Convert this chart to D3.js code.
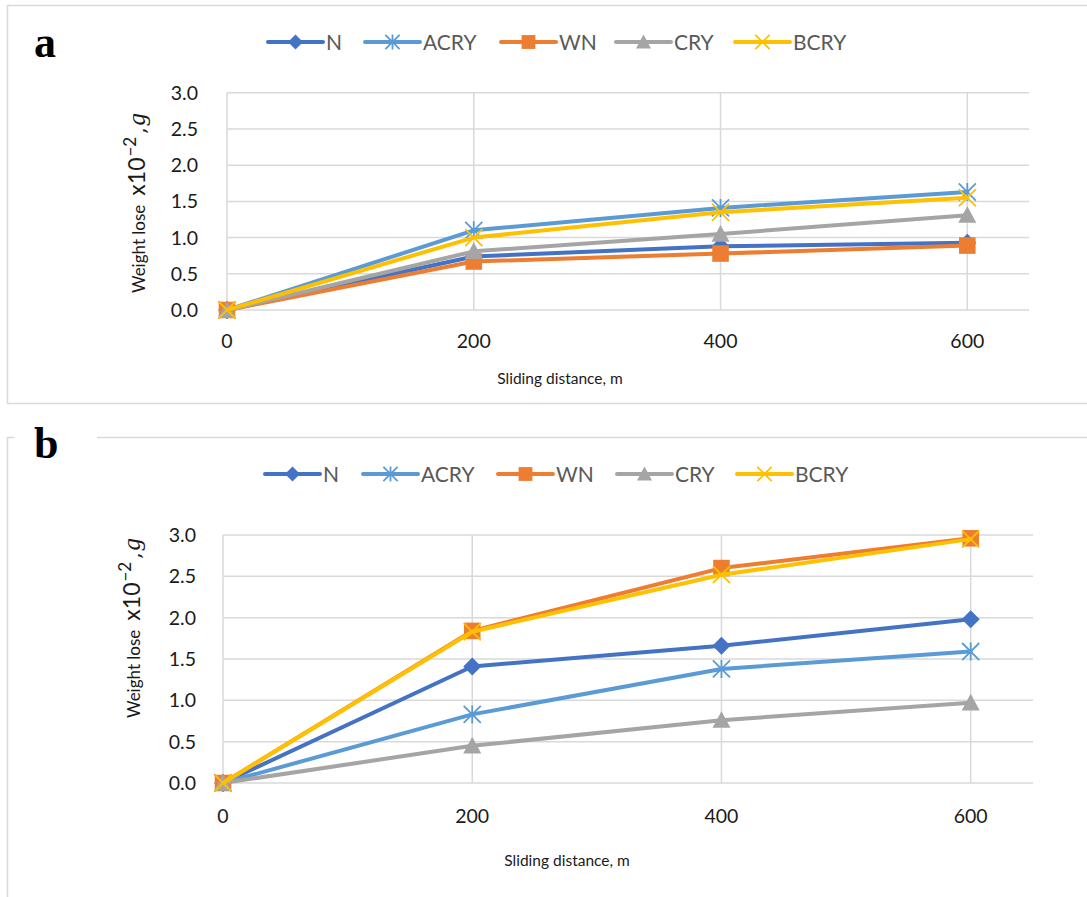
<!DOCTYPE html>
<html>
<head>
<meta charset="utf-8">
<script src="https://cdn.jsdelivr.net/npm/d3@7"></script>
<style>
  html, body { margin: 0; padding: 0; background: #fff; }
  svg { display: block; }
</style>
</head>
<body>
<svg id="chart" width="1087" height="897"></svg>
<script>
// ---------- data ----------
const distance = [0, 200, 400, 600];
const xTicks = [0, 200, 400, 600];
const yTicks = [0, 0.5, 1.0, 1.5, 2.0, 2.5, 3.0];
const seriesNames = ["N", "ACRY", "WN", "CRY", "BCRY"];

// panel a
const aN    = [0, 0.74, 0.88, 0.93];
const aACRY = [0, 1.10, 1.41, 1.63];
const aWN   = [0, 0.67, 0.78, 0.89];
const aCRY  = [0, 0.81, 1.05, 1.31];
const aBCRY = [0, 1.00, 1.35, 1.55];

// panel b
const bN    = [0, 1.41, 1.66, 1.98];
const bACRY = [0, 0.83, 1.38, 1.59];
const bWN   = [0, 1.84, 2.60, 2.96];
const bCRY  = [0, 0.45, 0.76, 0.97];
const bBCRY = [0, 1.83, 2.52, 2.95];

const xLabel = "Sliding distance, m";
const panelLabels = ["a", "b"];

// ---------- styles ----------
const colors = { N: "#4472C4", ACRY: "#5B9BD5", WN: "#ED7D31", CRY: "#A5A5A5", BCRY: "#FFC000" };
const grid = "#d9d9d9";
const tickFont = "Lato, 'Open Sans', sans-serif";

const svg = d3.select("#chart");

function drawMarker(g, name, cx, cy, s) {
  const c = colors[name];
  const h = s / 2;
  if (name === "N") {
    g.append("path").attr("d", `M${cx},${cy - h}L${cx + h},${cy}L${cx},${cy + h}L${cx - h},${cy}Z`).attr("fill", c);
  } else if (name === "WN") {
    g.append("rect").attr("x", cx - h * 0.92).attr("y", cy - h * 0.92).attr("width", s * 0.92).attr("height", s * 0.92).attr("fill", c);
  } else if (name === "CRY") {
    g.append("path").attr("d", `M${cx},${cy - h}L${cx + h},${cy + h * 0.85}L${cx - h},${cy + h * 0.85}Z`).attr("fill", c);
  } else if (name === "ACRY") {
    const d = h * 0.95;
    g.append("path").attr("d", `M${cx - d},${cy - d}L${cx + d},${cy + d}M${cx + d},${cy - d}L${cx - d},${cy + d}M${cx},${cy - h}L${cx},${cy + h}`)
      .attr("stroke", c).attr("stroke-width", 1.8).attr("fill", "none");
  } else if (name === "BCRY") {
    const d = h * 0.95;
    g.append("path").attr("d", `M${cx - d},${cy - d}L${cx + d},${cy + d}M${cx + d},${cy - d}L${cx - d},${cy + d}`)
      .attr("stroke", c).attr("stroke-width", 1.8).attr("fill", "none");
  }
}

function drawPanel(cfg) {
  const g = svg.append("g");
  const x = d3.scaleLinear().domain([0, 650]).range([cfg.left, cfg.right]);
  const y = d3.scaleLinear().domain([0, 3]).range([cfg.bottom, cfg.top]);

  g.append("g").selectAll("line").data(yTicks).join("line")
    .attr("x1", cfg.left).attr("x2", cfg.right)
    .attr("y1", d => y(d)).attr("y2", d => y(d))
    .attr("stroke", grid).attr("stroke-width", 1.5);
  g.append("g").selectAll("line").data(xTicks).join("line")
    .attr("x1", d => x(d)).attr("x2", d => x(d))
    .attr("y1", cfg.top).attr("y2", cfg.bottom)
    .attr("stroke", grid).attr("stroke-width", 1.5);

  g.append("g").selectAll("text").data(yTicks).join("text")
    .attr("x", cfg.yTickX).attr("y", d => y(d) + 7)
    .attr("text-anchor", "end")
    .attr("font-family", tickFont).attr("font-size", 19.5).attr("fill", "#1a1a1a")
    .text(d => d3.format(".1f")(d));

  g.append("g").selectAll("text").data(xTicks).join("text")
    .attr("x", d => x(d)).attr("y", cfg.xTickY)
    .attr("text-anchor", "middle")
    .attr("font-family", tickFont).attr("font-size", 19.5).attr("fill", "#1a1a1a")
    .text(d => d);

  g.append("text").attr("x", cfg.xTitleX).attr("y", cfg.xTitleY)
    .attr("text-anchor", "middle").attr("font-family", tickFont).attr("font-size", 15.5).attr("fill", "#1a1a1a")
    .text(xLabel);

  const yt = g.append("text")
    .attr("transform", `translate(${cfg.yTitleX},${cfg.yTitleY}) rotate(-90)`)
    .attr("fill", "#1a1a1a");
  yt.append("tspan").attr("font-family", tickFont).attr("font-size", 17).text("Weight lose");
  yt.append("tspan").attr("dx", 9).attr("font-family", tickFont).attr("font-size", 23).text("x10");
  yt.append("tspan").attr("dy", -9).attr("dx", 1).attr("font-family", tickFont).attr("font-size", 17).text("−2");
  yt.append("tspan").attr("dy", 9).attr("dx", 3).attr("font-family", "'DejaVu Serif', serif").attr("font-size", 20).text(",");
  yt.append("tspan").attr("dx", 2).attr("font-family", "'Liberation Serif', serif").attr("font-style", "italic").attr("font-size", 25).text("g");

  const line = d3.line().x(d => x(d[0])).y(d => y(d[1]));
  cfg.series.forEach((vals, i) => {
    const name = seriesNames[i];
    const pts = distance.map((dv, j) => [dv, vals[j]]);
    g.append("path").attr("d", line(pts)).attr("fill", "none")
      .attr("stroke", colors[name]).attr("stroke-width", 4)
      .attr("stroke-linejoin", "round").attr("stroke-linecap", "round");
    const mg = g.append("g");
    pts.forEach(p => drawMarker(mg, name, x(p[0]), y(p[1]), 18));
  });

  seriesNames.forEach((name, i) => {
    const lx = cfg.legendX[i];
    const ly = cfg.legendY;
    g.append("line").attr("x1", lx).attr("x2", lx + 55).attr("y1", ly).attr("y2", ly)
      .attr("stroke", colors[name]).attr("stroke-width", 4).attr("stroke-linecap", "round");
    drawMarker(g, name, lx + 27.5, ly, 15);
    g.append("text").attr("x", lx + 58).attr("y", ly + 8)
      .attr("font-family", tickFont).attr("font-size", 21).attr("fill", "#595959")
      .text(name);
  });

  g.append("text").attr("x", cfg.labelX).attr("y", cfg.labelY)
    .attr("font-family", "'Liberation Serif', 'Times New Roman', serif")
    .attr("font-weight", "bold").attr("font-size", 44).attr("fill", "#000")
    .text(cfg.label);
}

svg.append("rect").attr("x", 7.5).attr("y", 5.5).attr("width", 1100).attr("height", 398)
  .attr("fill", "none").attr("stroke", grid).attr("stroke-width", 1.5);
svg.append("path").attr("d", "M7.5,897V437.5H14M97,437.5H1100")
  .attr("fill", "none").attr("stroke", grid).attr("stroke-width", 1.5);

drawPanel({
  left: 227, right: 1029, top: 92.8, bottom: 310,
  yTickX: 198, xTickY: 348, xTitleX: 560, xTitleY: 384,
  yTitleX: 145, yTitleY: 293,
  legendX: [268, 365, 501, 616, 735], legendY: 42,
  labelX: 34, labelY: 57, label: panelLabels[0],
  series: [aN, aACRY, aWN, aCRY, aBCRY]
});

drawPanel({
  left: 223, right: 1033, top: 535, bottom: 783,
  yTickX: 196, xTickY: 823, xTitleX: 567, xTitleY: 866,
  yTitleX: 140, yTitleY: 718,
  legendX: [265, 363, 498, 617, 737], legendY: 474,
  labelX: 34, labelY: 458, label: panelLabels[1],
  series: [bN, bACRY, bWN, bCRY, bBCRY]
});
</script>
</body>
</html>
